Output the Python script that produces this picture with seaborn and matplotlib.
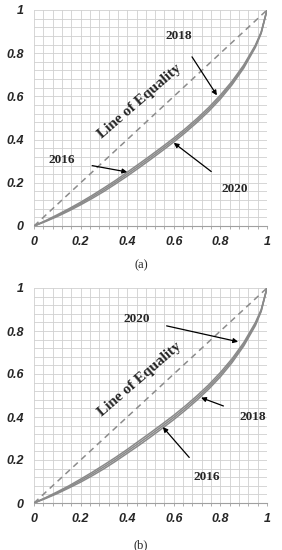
import numpy as np
import pandas as pd
import matplotlib
matplotlib.use("Agg")
import matplotlib.pyplot as plt
import seaborn as sns

# ---- data ----
pop_share = [0, 0.05, 0.1, 0.15, 0.2, 0.25, 0.3, 0.35, 0.4, 0.45, 0.5, 0.55,
             0.6, 0.65, 0.7, 0.75, 0.8, 0.85, 0.9, 0.95, 0.975, 1.0]
# panel (a)
a_2016 = [0, .025, .052, .080, .110, .142, .176, .211, .249, .287, .326, .366,
          .407, .451, .498, .549, .606, .670, .745, .837, .898, 1.0]
a_2018 = [0, .023, .048, .075, .104, .135, .168, .203, .240, .278, .317, .357,
          .398, .442, .489, .540, .597, .662, .738, .832, .895, 1.0]
a_2020 = [0, .021, .044, .070, .098, .128, .160, .195, .231, .269, .308, .348,
          .389, .433, .480, .531, .588, .654, .731, .827, .892, 1.0]
# panel (b)
b_2016 = [0, .021, .044, .070, .097, .127, .159, .194, .231, .268, .307, .347,
          .388, .432, .479, .530, .587, .653, .730, .825, .891, 1.0]
b_2018 = [0, .023, .048, .075, .104, .135, .168, .203, .240, .278, .317, .357,
          .398, .442, .489, .540, .597, .662, .738, .832, .895, 1.0]
b_2020 = [0, .025, .052, .080, .111, .143, .177, .212, .249, .288, .327, .367,
          .408, .452, .499, .550, .607, .671, .746, .839, .899, 1.0]
equality = [0, 1]
ticks = [0, 0.2, 0.4, 0.6, 0.8, 1]
tick_labels = ["0", "0.2", "0.4", "0.6", "0.8", "1"]

sns.set_style("white")
plt.rcParams['font.family'] = ['Liberation Sans', 'DejaVu Sans']

fig = plt.figure(figsize=(2.82, 5.5), dpi=100)
ax_a = fig.add_axes([34/282, 1-226/550, 233/282, 216/550])
ax_b = fig.add_axes([34/282, 1-503/550, 233/282, 215/550])

serif = ['Liberation Serif', 'DejaVu Serif']

def draw(ax, curves, labels):
    minor = np.arange(0, 1.0001, 0.04)
    ax.set_xlim(0, 1)
    ax.set_ylim(0, 1)
    ax.set_xticks(minor, minor=True)
    ax.set_yticks(minor, minor=True)
    ax.set_xticks(ticks)
    ax.set_yticks(ticks)
    ax.set_xticklabels(tick_labels)
    ax.set_yticklabels(tick_labels)
    ax.grid(True, which='both', color='#d0d0d0', linewidth=0.6)
    ax.set_axisbelow(True)
    for s in ax.spines.values():
        s.set_visible(False)
    ax.spines['bottom'].set_visible(True)
    ax.spines['bottom'].set_color('#a0a0a0')
    ax.spines['bottom'].set_linewidth(0.8)
    ax.tick_params(which='both', length=2.5, color='#a0a0a0', width=0.6,
                   direction='out', bottom=True, left=False)
    ax.tick_params(which='major', labelsize=9, pad=5)
    for t in ax.get_xticklabels() + ax.get_yticklabels():
        t.set_fontweight('bold')
        t.set_fontstyle('italic')
    sns.lineplot(x=equality, y=equality, ax=ax, color='#8c8c8c',
                 linewidth=1.1, linestyle=(0, (4, 3)))
    for yv in curves:
        sns.lineplot(x=pop_share, y=yv, ax=ax, color='#8a8a8a', linewidth=1.1)
    ax.set_xlabel("")
    ax.set_ylabel("")
    ax.text(0.455, 0.575, "Line of Equality", rotation=41, ha='center', va='center',
            fontsize=11, fontweight='bold', family=serif)
    for text, txy, pxy in labels:
        ax.annotate(text, xy=pxy, xytext=txy, ha='center', va='center',
                    fontsize=9.5, fontweight='bold', family=serif,
                    arrowprops=dict(arrowstyle='-|>', color='black', lw=0.9,
                                    mutation_scale=7, shrinkA=10, shrinkB=0))

draw(ax_a, [a_2016, a_2018, a_2020],
     [("2018", (0.62, 0.88), (0.785, 0.605)),
      ("2016", (0.12, 0.305), (0.40, 0.25)),
      ("2020", (0.86, 0.17), (0.60, 0.385))])
draw(ax_b, [b_2016, b_2018, b_2020],
     [("2020", (0.44, 0.855), (0.876, 0.75)),
      ("2018", (0.94, 0.40), (0.717, 0.49)),
      ("2016", (0.74, 0.12), (0.553, 0.353))])

fig.text(141/282, 1-265/550, "(a)", ha='center', va='center', fontsize=9, family=serif)
fig.text(141/282, 1-545/550, "(b)", ha='center', va='center', fontsize=9, family=serif)

fig.savefig("out.png", dpi=100)
